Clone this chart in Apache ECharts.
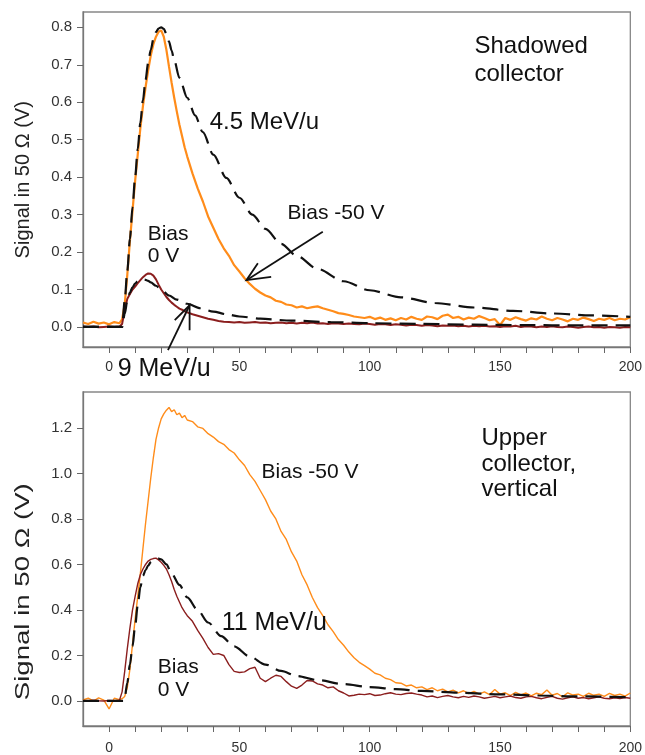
<!DOCTYPE html>
<html><head><meta charset="utf-8">
<script src="https://cdn.jsdelivr.net/npm/echarts@6/dist/echarts.min.js"></script>
<style>html,body{margin:0;padding:0;background:#fff}#c{width:645px;height:755px}</style>
</head><body><div id="c"></div>
<script>
// ---- shared time axis for measured traces (both panels) ----
const tx = [-10,-8,-6,-4,-2,0,2,4,5,6,7,8,9,10,11,12,13,14,15,16,17,18,19,20,21,22,23,24,25,26,27,28,29,30,
32,34,36,38,40,42,44,46,48,50,52,54,56,58,60,62,64,66,68,70,72,74,76,78,80,82,84,86,88,90,
92,94,96,98,100,102,104,106,108,110,112,114,116,118,120,122,124,126,128,130,132,134,136,138,140,
142,144,146,148,150,152,154,156,158,160,162,164,166,168,170,172,174,176,178,180,182,184,186,188,190,192,194,196,198,200];

// ---- top panel: shadowed collector ----
const topOrange = [0.012,0.008,0.014,0.009,0.012,0.007,0.013,0.010,
0.02,0.06,0.14,0.23,0.31,0.39,0.46,0.53,0.59,0.64,0.685,0.725,0.755,0.775,0.788,0.792,0.775,0.74,0.695,0.652,0.612,0.575,0.54,0.51,0.48,0.455,
0.41,0.37,0.335,0.295,0.265,0.235,0.21,0.19,0.165,0.148,0.13,0.115,0.102,0.092,0.084,0.079,0.07,0.067,0.06,0.058,0.052,0.055,0.05,0.053,0.055,0.05,0.046,0.042,0.037,0.035,
0.032,0.028,0.026,0.024,0.027,0.021,0.025,0.019,0.023,0.018,0.024,0.02,0.027,0.022,0.019,0.028,0.026,0.021,0.03,0.033,
0.024,0.027,0.02,0.025,0.022,0.029,0.024,0.018,0.021,0.005,0.024,0.019,0.026,0.021,0.017,0.023,0.02,0.028,0.022,0.018,
0.024,0.02,0.015,0.022,0.019,0.025,0.021,0.016,0.022,0.019,0.024,0.018,0.022,0.02,0.026];
const topRed = [0.001,0.0,0.001,-0.001,0.0,0.001,0.0,0.001,
0.008,0.045,0.075,0.088,0.1,0.108,0.117,0.125,0.133,0.139,0.143,0.142,0.137,0.127,0.113,0.1,0.09,0.08,0.072,0.065,0.059,0.054,0.049,0.046,0.042,0.039,
0.034,0.03,0.026,0.022,0.019,0.016,0.014,0.013,0.012,0.013,0.011,0.012,0.013,0.011,0.012,0.01,0.011,0.012,0.01,0.011,0.009,0.011,0.01,0.012,0.009,0.01,0.008,0.01,0.009,0.008,
0.009,0.008,0.007,0.009,0.008,0.006,0.008,0.007,0.005,0.007,0.006,0.004,0.006,0.005,0.003,0.005,0.004,0.002,0.004,0.003,
0.004,0.002,0.003,0.001,0.003,0.002,0.003,0.001,0.002,0.0,0.002,0.001,0.003,0.0,0.002,0.001,-0.001,0.001,0.0,0.002,
0.0,-0.001,0.001,0.0,-0.002,0.0,0.001,-0.001,0.0,-0.002,0.0,-0.001,-0.002,0.0,-0.001];
const model45x = [-10,5,6,7,8,9,10,11,12,13,14,15,16,17,18,19,20,21,22,23,24,25,27,30,33,36,40,45,50,55,60,66,72,80,90,100,112,125,140,155,170,185,200];
const model45y = [0,0,0.07,0.15,0.235,0.32,0.40,0.475,0.545,0.605,0.66,0.705,0.74,0.768,0.787,0.797,0.80,0.796,0.782,0.762,0.738,0.712,0.665,0.612,0.565,0.52,0.46,0.398,0.345,0.3,0.262,0.222,0.19,0.155,0.122,0.098,0.079,0.064,0.052,0.043,0.036,0.031,0.027];
const model9x = [-10,5,6,7,8,9,10,11,12,13,14,15,16,18,20,23,26,30,35,40,45,50,58,70,85,100,120,140,160,180,200];
const model9y = [0,0,0.035,0.07,0.092,0.106,0.116,0.122,0.126,0.127,0.126,0.123,0.119,0.11,0.1,0.084,0.073,0.062,0.05,0.041,0.034,0.028,0.022,0.017,0.013,0.01,0.008,0.006,0.005,0.004,0.004];

// ---- bottom panel: upper collector, vertical ----
const botOrange = [0.005,0.012,0.0,0.014,0.004,-0.035,0.012,0.006,
0.01,0.02,0.06,0.14,0.25,0.36,0.46,0.56,0.67,0.78,0.88,0.98,1.07,1.15,1.2,1.24,1.262,1.278,1.29,1.272,1.28,1.258,1.265,1.245,1.255,1.235,
1.228,1.205,1.198,1.175,1.16,1.14,1.128,1.105,1.09,1.06,1.035,0.995,0.965,0.925,0.885,0.835,0.8,0.745,0.71,0.655,0.615,0.555,0.51,0.455,0.41,0.375,0.335,0.305,0.27,0.245,
0.215,0.19,0.17,0.155,0.14,0.122,0.115,0.1,0.094,0.08,0.078,0.066,0.07,0.058,0.062,0.05,0.058,0.045,0.052,0.04,
0.048,0.036,0.045,0.032,0.042,0.03,0.04,0.028,0.05,0.03,0.036,0.024,0.038,0.027,0.035,0.022,0.034,0.028,0.048,0.025,
0.033,0.018,0.036,0.026,0.03,0.02,0.034,0.025,0.03,0.02,0.033,0.024,0.03,0.021,0.035];
const botRed = [0.002,0.0,0.003,0.001,0.0,0.002,0.001,0.003,
0.04,0.13,0.23,0.32,0.4,0.46,0.515,0.555,0.58,0.6,0.615,0.622,0.626,0.628,0.62,0.61,0.596,0.58,0.555,0.525,0.49,0.46,0.435,0.41,0.392,0.375,
0.35,0.31,0.275,0.235,0.205,0.208,0.2,0.16,0.13,0.125,0.128,0.142,0.148,0.1,0.085,0.1,0.113,0.108,0.085,0.065,0.055,0.07,0.09,0.088,0.075,0.07,0.058,0.062,0.045,0.035,
0.022,0.025,0.03,0.028,0.032,0.024,0.026,0.032,0.036,0.03,0.028,0.033,0.035,0.03,0.026,0.018,0.022,0.015,0.02,0.024,
0.018,0.014,0.02,0.016,0.022,0.018,0.012,0.016,0.02,0.014,0.018,0.022,0.015,0.012,0.018,0.02,0.014,0.01,0.016,0.02,
0.012,0.008,0.014,0.018,0.012,0.015,0.01,0.014,0.018,0.012,0.01,0.014,0.011,0.015,0.012];
const model11x = [-10,5.5,6,7,8,9,10,11,12,13,14,15,16,17,18,19,20,22,24,27,30,34,38,43,48,54,60,66,72,80,90,100,110,120,135,150,165,180,200];
const model11y = [0,0,0.015,0.08,0.16,0.24,0.33,0.42,0.5,0.55,0.575,0.595,0.61,0.62,0.625,0.626,0.622,0.6,0.56,0.51,0.455,0.4,0.345,0.285,0.24,0.195,0.16,0.132,0.11,0.092,0.074,0.061,0.052,0.044,0.036,0.029,0.024,0.02,0.016];

// ---- ticks ----
const xTicks = [0,10,20,30,40,50,60,70,80,90,100,110,120,130,140,150,160,170,180,190,200];
const xLabels = [0,50,100,150,200];
const yTopTicks = [0,0.1,0.2,0.3,0.4,0.5,0.6,0.7,0.8];
const yBotTicks = [0,0.2,0.4,0.6,0.8,1.0,1.2];

const zip = (xs, ys) => xs.map((x, i) => [x, ys[i]]);
const FONT = 'Liberation Sans, Arial, sans-serif';
const ORANGE = '#ff8c1a', RED = '#8b1e1e';

function xAxisCfg(g, margin) {
  return {
    type: 'value', gridIndex: g, min: -10, max: 200,
    axisLine: { show: true, onZero: false, lineStyle: { color: '#777', width: 1.3 } },
    axisTick: { show: true, length: 6, customValues: xTicks, lineStyle: { color: '#666' } },
    axisLabel: { customValues: xLabels, margin: margin, fontSize: 14, color: '#333', fontFamily: FONT },
    splitLine: { show: false }
  };
}
function yAxisCfg(g, min, max, ticks) {
  return {
    type: 'value', gridIndex: g, min: min, max: max,
    axisLine: { show: true, onZero: false, lineStyle: { color: '#777', width: 1.3 } },
    axisTick: { show: true, length: 6, customValues: ticks, lineStyle: { color: '#666' } },
    axisLabel: { customValues: ticks, margin: 11, fontSize: 15, color: '#333', fontFamily: FONT,
      formatter: v => Number(v).toFixed(1) },
    splitLine: { show: false }
  };
}
function line(g, data, color, width, dashed) {
  return {
    type: 'line', xAxisIndex: g, yAxisIndex: g, data: data, showSymbol: false, symbol: 'none',
    smooth: dashed ? 0.3 : false, smoothMonotone: dashed ? 'x' : undefined,
    lineStyle: { color: color, width: width, type: dashed ? [16, 8] : 'solid' },
    z: dashed ? 5 : 3, silent: true
  };
}

const chart = echarts.init(document.getElementById('c'), null, { renderer: 'canvas' });
chart.setOption({
  animation: false,
  backgroundColor: '#fff',
  grid: [
    { left: 83, top: 12, width: 548, height: 335, show: true, borderColor: '#888', borderWidth: 1.3, backgroundColor: 'transparent' },
    { left: 83, top: 392, width: 548, height: 334, show: true, borderColor: '#888', borderWidth: 1.3, backgroundColor: 'transparent' }
  ],
  xAxis: [xAxisCfg(0, 13), xAxisCfg(1, 15)],
  yAxis: [yAxisCfg(0, -0.0535, 0.841, yTopTicks), yAxisCfg(1, -0.11, 1.358, yBotTicks)],
  series: [
    line(0, zip(tx, topOrange), ORANGE, 2.2, false),
    line(0, zip(tx, topRed), RED, 2, false),
    line(0, zip(model45x, model45y), '#111', 2.2, true),
    line(0, zip(model9x, model9y), '#111', 2.2, true),
    line(1, zip(tx, botOrange), ORANGE, 1.4, false),
    line(1, zip(tx, botRed), RED, 1.4, false),
    line(1, zip(model11x, model11y), '#111', 2.2, true)
  ]
});

// ---- annotations (positions in data coordinates) ----
const texts = [
  { g: 0, t: 'Shadowed\ncollector', x: 140.2, y: 0.712, size: 24, lh: 28 },
  { g: 0, t: '4.5 MeV/u', x: 38.6, y: 0.547, size: 24, lh: 28 },
  { g: 0, t: 'Bias -50 V', x: 68.5, y: 0.304, size: 21, lh: 24 },
  { g: 0, t: 'Bias\n0 V', x: 14.8, y: 0.218, size: 21, lh: 22 },
  { g: 0, t: '9 MeV/u', x: 3.3, y: -0.113, size: 25, lh: 28 },
  { g: 1, t: 'Upper\ncollector,\nvertical', x: 142.9, y: 1.04, size: 24, lh: 25.5 },
  { g: 1, t: 'Bias -50 V', x: 58.5, y: 1.005, size: 21, lh: 24 },
  { g: 1, t: '11 MeV/u', x: 43.2, y: 0.342, size: 25, lh: 28 },
  { g: 1, t: 'Bias\n0 V', x: 18.7, y: 0.0966, size: 21, lh: 23 }
];
const arrows = [
  { g: 0, from: [82.0, 0.254], tip: [52.7, 0.125], h1: [57.1, 0.170], h2: [62.2, 0.134] },
  { g: 0, from: [22.6, -0.062], tip: [30.9, 0.058], h1: [25.2, 0.018], h2: [30.9, -0.009] }
];
const P = (g, p) => chart.convertToPixel({ gridIndex: g }, p);
const graphic = [];
texts.forEach(a => {
  const p = P(a.g, [a.x, a.y]);
  graphic.push({ type: 'text', x: p[0], y: p[1], z: 10, silent: true,
    style: { text: a.t, fill: '#111', font: a.size + 'px ' + FONT, lineHeight: a.lh,
      textAlign: 'left', textVerticalAlign: 'middle', verticalAlign: 'middle' } });
});
arrows.forEach(a => {
  const f = P(a.g, a.from), t = P(a.g, a.tip), h1 = P(a.g, a.h1), h2 = P(a.g, a.h2);
  graphic.push({ type: 'polyline', z: 10, silent: true, shape: { points: [f, t] }, style: { stroke: '#111', lineWidth: 1.8, fill: null } });
  graphic.push({ type: 'polyline', z: 10, silent: true, shape: { points: [h1, t, h2] }, style: { stroke: '#111', lineWidth: 1.8, fill: null } });
});
// y-axis titles (bottom panel is vertically stretched in the source)
const tTop = P(0, [-10, 0.393]);
const tBot = P(1, [-10, 0.48]);
graphic.push({ type: 'text', x: 23, y: tTop[1], rotation: Math.PI / 2, silent: true,
  style: { text: 'Signal in 50 Ω (V)', fill: '#222', font: '20px ' + FONT, textAlign: 'center', textVerticalAlign: 'middle', align: 'center', verticalAlign: 'middle' } });
graphic.push({ type: 'text', x: 23, y: tBot[1], rotation: Math.PI / 2, scaleX: 1.38, silent: true,
  style: { text: 'Signal in 50 Ω (V)', fill: '#222', font: '20px ' + FONT, textAlign: 'center', textVerticalAlign: 'middle', align: 'center', verticalAlign: 'middle' } });
chart.setOption({ graphic: graphic });
</script></body></html>
